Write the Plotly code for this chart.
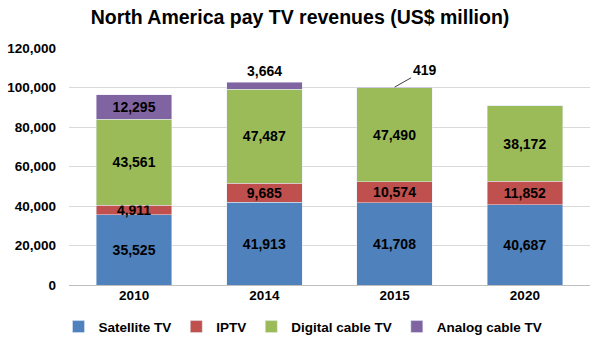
import plotly.graph_objects as go

years = ["2010", "2014", "2015", "2020"]
satellite = [35525, 41913, 41708, 40687]
iptv = [4911, 9685, 10574, 11852]
digital = [43561, 47487, 47490, 38172]
analog = [12295, 3664, 419, 0]
series_names = ["Satellite TV", "IPTV", "Digital cable TV", "Analog cable TV"]
colors = ["#4F81BD", "#C0504D", "#9BBB59", "#8064A2"]
y_ticks = [0, 20000, 40000, 60000, 80000, 100000, 120000]

font_family = "Liberation Sans, Arial, sans-serif"

fig = go.Figure()
all_series = [satellite, iptv, digital, analog]
for name, vals, col in zip(series_names, all_series, colors):
    if name == "Analog cable TV":
        texts = [f"{vals[0]:,}", "", "", ""]
    else:
        texts = [f"{v:,}" for v in vals]
    fig.add_trace(go.Bar(
        name=name, x=years, y=vals, marker_color=col,
        text=texts, textposition="inside", textangle=0, constraintext="none",
        insidetextanchor="middle",
        textfont=dict(family=font_family, size=14, color="black", weight="bold"),
        hoverinfo="skip",
    ))

totals = [s + i + d + a for s, i, d, a in zip(satellite, iptv, digital, analog)]

# category axis positions (index of the year) for the two outside labels
fig.add_annotation(x=years.index("2014"), y=totals[1], text=f"{analog[1]:,}", showarrow=False,
                   yanchor="bottom", yshift=1,
                   font=dict(family=font_family, size=14, color="black", weight="bold"))
fig.add_annotation(x=years.index("2015"), y=totals[2], text=f"{analog[2]:,}", showarrow=True,
                   arrowhead=0, arrowwidth=1, arrowcolor="#404040", ax=30, ay=-17,
                   font=dict(family=font_family, size=14, color="black", weight="bold"))

fig.update_layout(
    barmode="stack",
    bargap=0.42,
    width=600, height=344,
    margin=dict(l=69, r=10, t=48, b=59, autoexpand=False),
    paper_bgcolor="white", plot_bgcolor="white",
    font=dict(family=font_family, size=14, color="black", weight="bold"),
    title=dict(text="North America pay TV revenues (US$ million)", x=0.5, xanchor="center",
               y=0.95, yanchor="middle",
               font=dict(family=font_family, size=19.5, color="black", weight="bold")),
    xaxis=dict(type="category", categoryorder="array", categoryarray=years,
               range=[-0.5, len(years) - 0.5], autorange=False, automargin=False,
               showgrid=False, showline=False, ticks="",
               tickfont=dict(size=13.5, weight="bold")),
    yaxis=dict(range=[0, 120000], autorange=False, automargin=False, tickvals=y_ticks,
               tickformat=",", showgrid=True, gridcolor="#D9D9D9", gridwidth=1,
               zeroline=True, zerolinecolor="#BFBFBF", zerolinewidth=1, ticks="",
               ticklabelstandoff=12, tickfont=dict(size=13.5, weight="bold")),
    legend=dict(orientation="h", xref="container", x=0.505, xanchor="center",
                yref="container", y=0.05, yanchor="middle",
                font=dict(size=13.5, weight="bold"), traceorder="normal", itemwidth=30),
    showlegend=True,
)

fig.write_html("out.html")
